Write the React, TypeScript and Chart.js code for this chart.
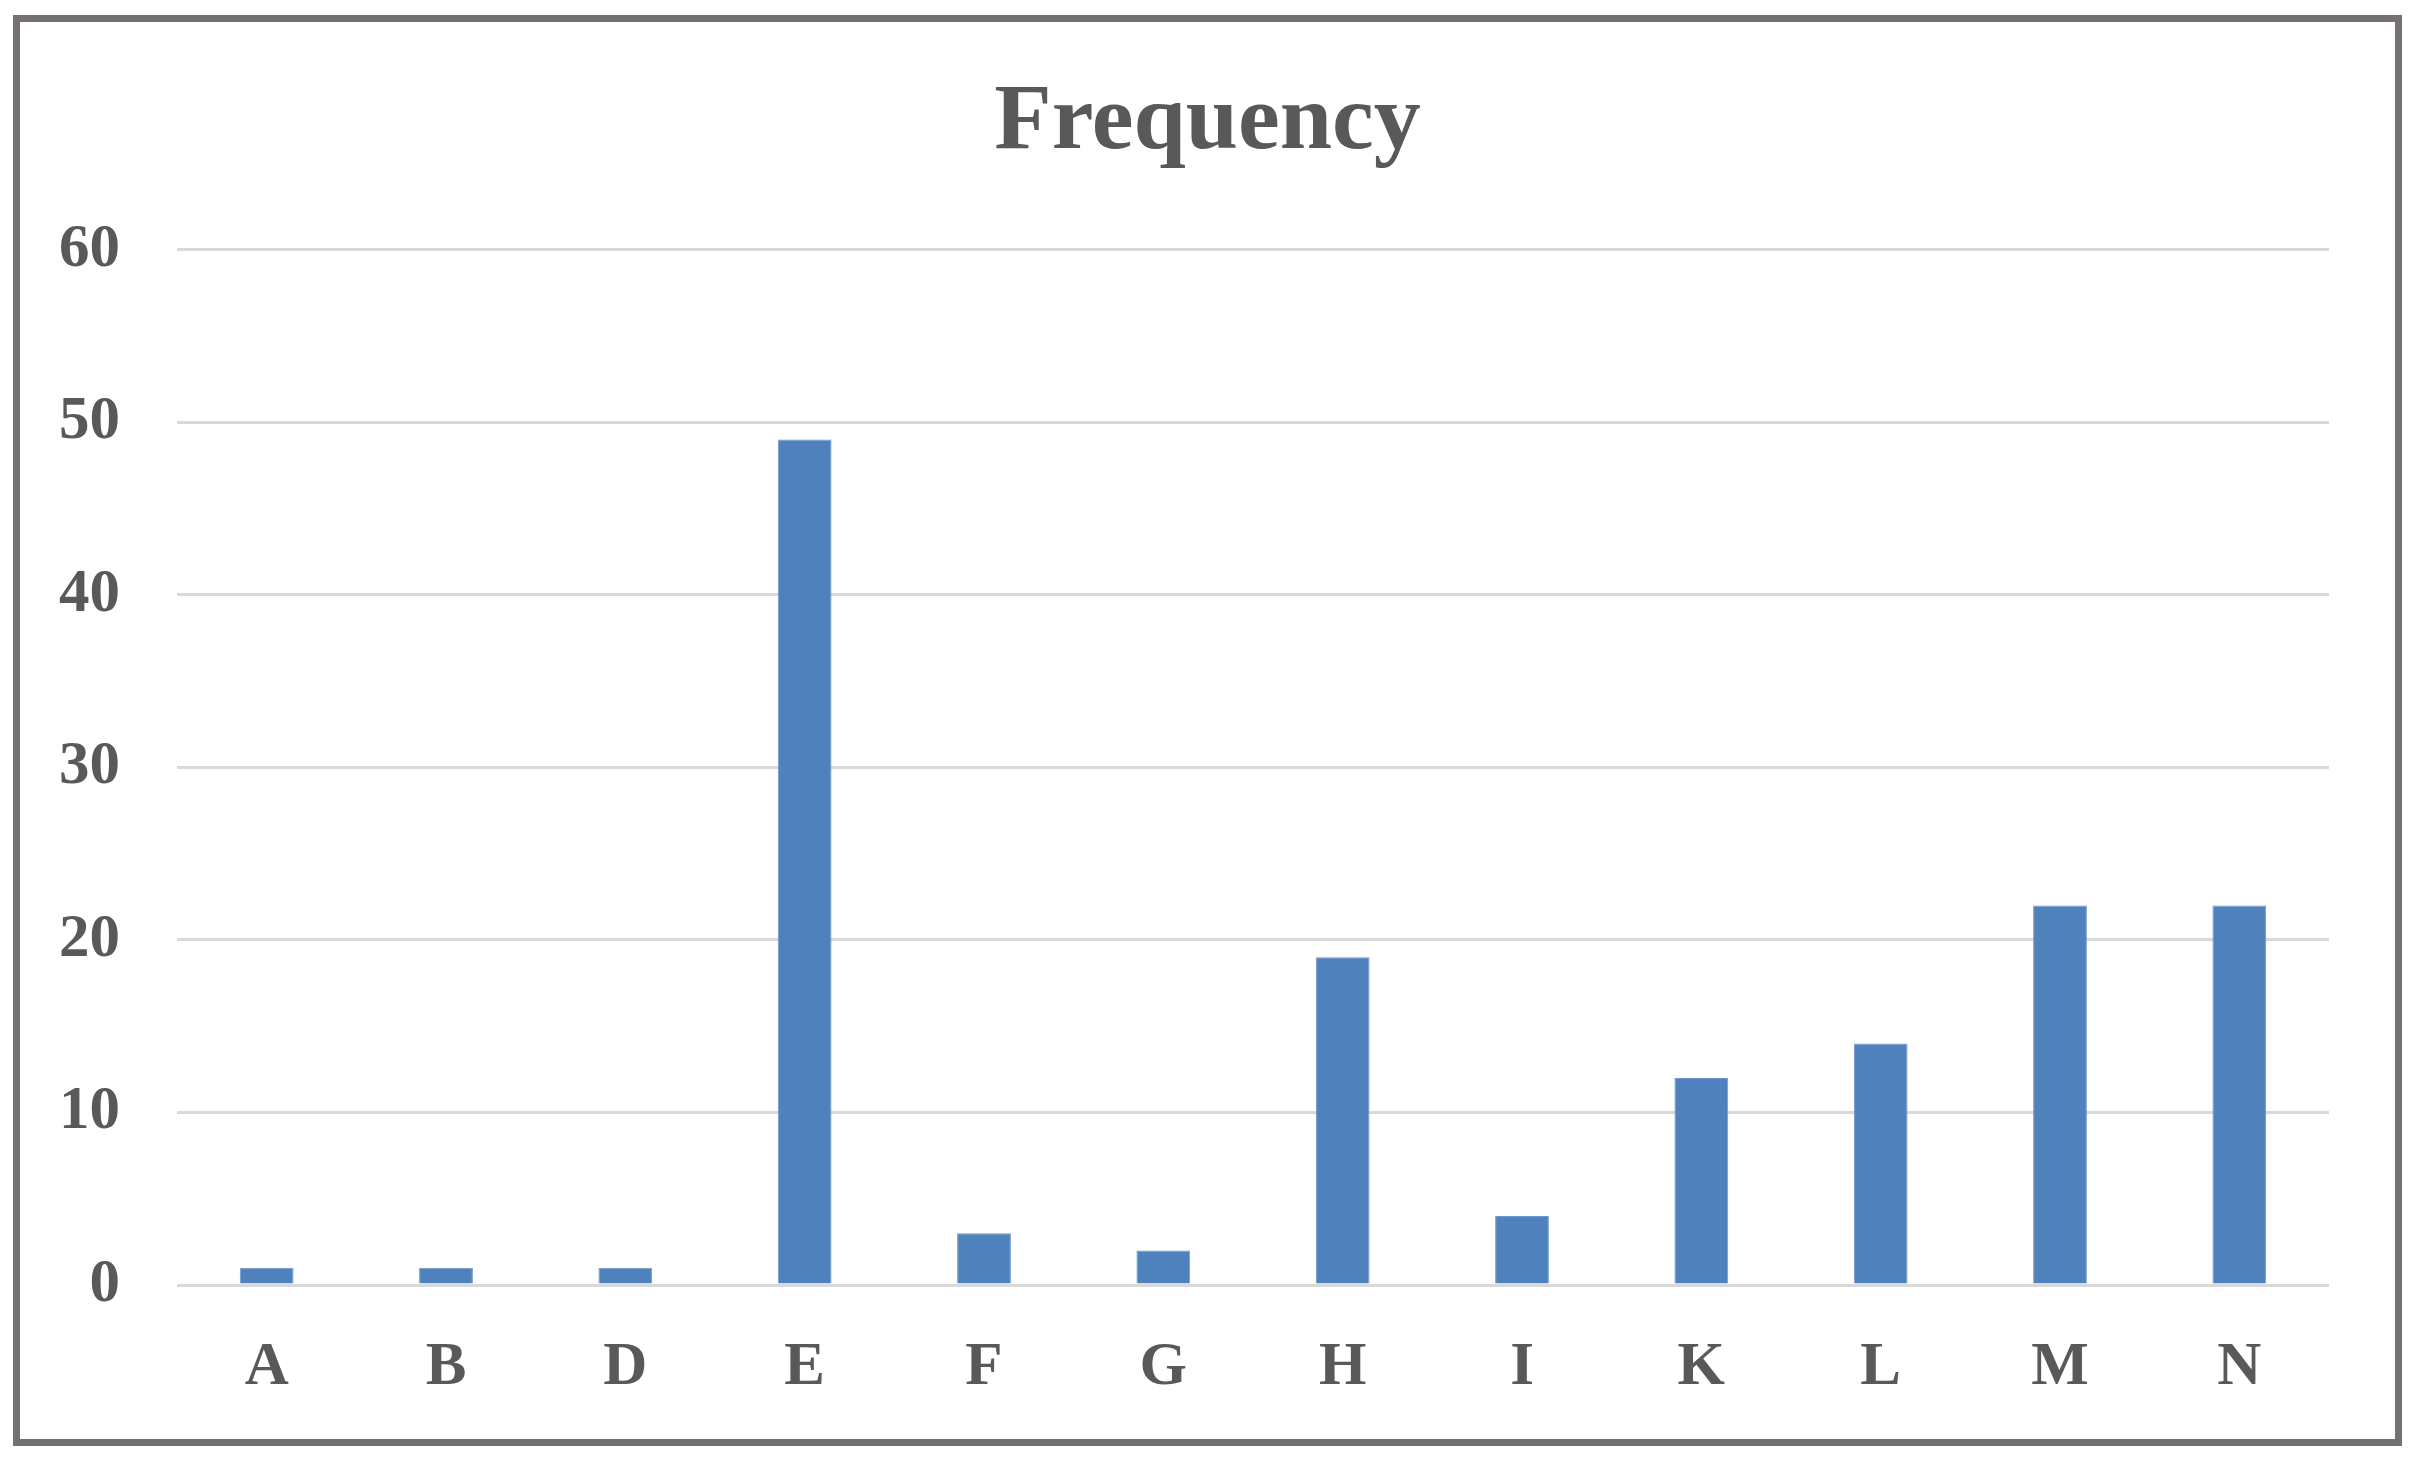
import React, { useEffect, useRef } from "react";
import { Chart, registerables } from "chart.js";

Chart.register(...registerables);

const categories = ["A", "B", "D", "E", "F", "G", "H", "I", "K", "L", "M", "N"];
const frequencyValues = [1, 1, 1, 49, 3, 2, 19, 4, 12, 14, 22, 22];
const yTicks = [0, 10, 20, 30, 40, 50, 60];
const chartTitle = "Frequency";

export default function App() {
  const canvasRef = useRef<HTMLCanvasElement | null>(null);

  useEffect(() => {
    const canvas = canvasRef.current;
    if (!canvas) return;
    const textColor = "#595959";
    const fontFamily = "'Liberation Serif', 'Times New Roman', serif";
    const chart = new Chart(canvas, {
      type: "bar",
      data: {
        labels: categories,
        datasets: [
          {
            label: chartTitle,
            data: frequencyValues,
            backgroundColor: "#4f81bd",
            borderColor: "#6f98cb",
            borderWidth: 1,
            barPercentage: 0.3,
            categoryPercentage: 1,
            yAxisID: "y",
          },
        ],
      },
      options: {
        animation: false,
        responsive: false,
        maintainAspectRatio: false,
        devicePixelRatio: 1,
        layout: { padding: { left: 0, right: 0, top: 0, bottom: 0 } },
        plugins: {
          legend: { display: false },
          tooltip: { enabled: false },
          title: {
            display: true,
            text: chartTitle,
            color: textColor,
            font: { family: fontFamily, size: 94, weight: "bold" },
            padding: { top: 45, bottom: 70 },
          },
        },
        scales: {
          x: {
            grid: { display: false, drawTicks: false },
            border: { display: false },
            afterFit: (scale: any) => {
              scale.height = 154;
            },
            ticks: {
              color: textColor,
              font: { family: fontFamily, size: 61, weight: "bold" },
              padding: 47,
              maxRotation: 0,
              autoSkip: false,
            },
          },
          y: {
            min: yTicks[0],
            max: yTicks[yTicks.length - 1],
            afterBuildTicks: (scale: any) => {
              scale.ticks = yTicks.map((v) => ({ value: v }));
            },
            afterFit: (scale: any) => {
              scale.width = 157;
            },
            grid: { color: "#d9d9d9", lineWidth: 3, drawTicks: false },
            border: { display: false },
            ticks: {
              color: textColor,
              font: { family: fontFamily, size: 61, weight: "bold" },
              padding: 57,
            },
          },
          yRightSpace: {
            position: "right",
            display: true,
            min: 0,
            max: 60,
            grid: { display: false, drawTicks: false },
            border: { display: false },
            ticks: { display: false },
            afterFit: (scale: any) => {
              scale.width = 66;
            },
          },
        },
      },
    });
    return () => chart.destroy();
  }, []);

  return (
    <div
      style={{
        position: "absolute",
        left: 0,
        top: 0,
        width: 2419,
        height: 1466,
        background: "#ffffff",
      }}
    >
      <div
        style={{
          position: "absolute",
          left: 13,
          top: 15,
          width: 2389,
          height: 1431,
          boxSizing: "border-box",
          border: "7px solid #767171",
          background: "#ffffff",
        }}
      >
        <canvas
          ref={canvasRef}
          width={2375}
          height={1417}
          style={{ display: "block", width: 2375, height: 1417 }}
        />
      </div>
    </div>
  );
}
